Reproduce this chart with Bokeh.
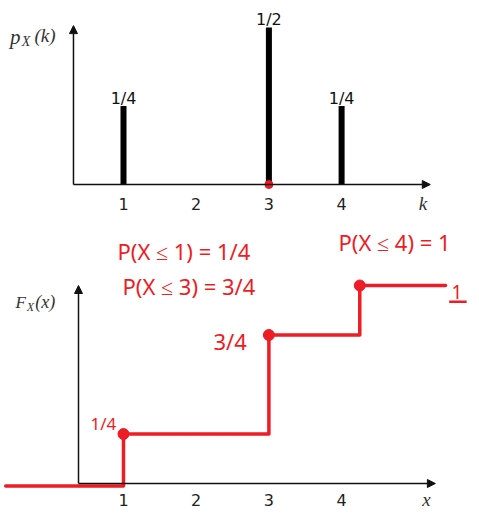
from bokeh.plotting import figure
from bokeh.models import Range1d, LinearAxis, FixedTicker, Arrow, NormalHead
from bokeh.core.properties import value
from bokeh.embed import file_html
from bokeh.resources import INLINE

# ---------------- data ----------------
tick_values = [1, 2, 3, 4]
tick_labels = ["1", "2", "3", "4"]

pmf_k = [1, 3, 4]
pmf_p = [0.25, 0.5, 0.25]
pmf_labels = ["1/4", "1/2", "1/4"]

# hand-drawn CDF (positions)
cdf_jump_x = [1, 3, 4.25]
cdf_levels = [0.25, 0.75, 1.0]
cdf_level_labels = ["1/4", "3/4", "1"]
cdf_zero_level = -0.012
cdf_x_start = -0.62
cdf_x_end = 5.43

notes = ["P(X ≤ 1) = 1/4", "P(X ≤ 3) = 3/4", "P(X ≤ 4) = 1"]

RED = "#ee1c24"
INK = "#111111"
W, H = 477, 512

p = figure(width=W, height=H, output_backend="svg", toolbar_location=None,
           x_axis_location=None, y_axis_location=None,
           x_range=Range1d(-0.6919, 5.8693), y_range=Range1d(-1.04459, 0.5860),
           min_border=0, min_border_left=0, min_border_right=0,
           min_border_top=0, min_border_bottom=0)
p.extra_y_ranges = {"cdf": Range1d(-0.14646, 2.43939)}
p.outline_line_color = None
p.xgrid.visible = False
p.ygrid.visible = False
p.background_fill_color = "white"
p.border_fill_color = "white"


def head():
    return NormalHead(size=8, fill_color=INK, line_color=INK)


# ---------------- top panel: PMF ----------------
p.add_layout(Arrow(x_start=0.312, y_start=0, x_end=5.22, y_end=0, line_width=1.5,
                   line_color=INK, end=head()))
p.add_layout(Arrow(x_start=0.312, y_start=0, x_end=0.312, y_end=0.506, line_width=1.5,
                   line_color=INK, end=head()))

p.segment(x0=pmf_k, y0=[0] * len(pmf_k), x1=pmf_k, y1=pmf_p, line_width=6,
          line_color="black", line_cap="butt")
p.text(x=pmf_k, y=pmf_p, text=pmf_labels, text_align="center",
       text_baseline="alphabetic", y_offset=-8,
       text_font=value("DejaVu Sans"), text_font_size="16px", text_color=INK)
p.scatter(x=[3], y=[0], size=8, color=RED)

ax_top = LinearAxis(fixed_location=0, ticker=FixedTicker(ticks=tick_values),
                    major_label_overrides={v: l for v, l in zip(tick_values, tick_labels)})
ax_top.axis_line_color = None
ax_top.major_tick_line_color = None
ax_top.minor_tick_line_color = None
ax_top.major_label_standoff = 7
ax_top.major_label_text_font = "DejaVu Sans"
ax_top.major_label_text_font_size = "16px"
ax_top.major_label_text_color = "#222222"
p.add_layout(ax_top, "below")

# axis titles (top)
p.text(x=[-0.56], y=[0.471], text=["p"], text_font=value("Liberation Serif"),
       text_font_style="italic", text_font_size="21px", text_color="#333333",
       text_baseline="alphabetic")
p.text(x=[-0.40], y=[0.456], text=["X"], text_font=value("Liberation Serif"),
       text_font_style="italic", text_font_size="14px", text_color="#333333",
       text_baseline="alphabetic")
p.text(x=[-0.225], y=[0.475], text=["(k)"], text_font=value("Liberation Serif"),
       text_font_style="italic", text_font_size="19px", text_color="#333333",
       text_baseline="alphabetic")
p.text(x=[5.06], y=[-0.0605], text=["k"], text_font=value("Liberation Serif"),
       text_font_style="italic", text_font_size="19px", text_color="#333333",
       text_baseline="alphabetic")

# ---------------- bottom panel: CDF ----------------
p.add_layout(Arrow(x_start=0.381, y_start=0, x_end=5.29, y_end=0, line_width=1.5,
                   line_color=INK, y_range_name="cdf", end=head()))
p.add_layout(Arrow(x_start=0.381, y_start=0, x_end=0.381, y_end=1.0, line_width=1.5,
                   line_color=INK, y_range_name="cdf", end=head()))

ax_bot = LinearAxis(fixed_location=0, y_range_name="cdf",
                    ticker=FixedTicker(ticks=tick_values),
                    major_label_overrides={v: l for v, l in zip(tick_values, tick_labels)})
ax_bot.axis_line_color = None
ax_bot.major_tick_line_color = None
ax_bot.minor_tick_line_color = None
ax_bot.major_label_standoff = 4
ax_bot.major_label_text_font = "DejaVu Sans"
ax_bot.major_label_text_font_size = "16px"
ax_bot.major_label_text_color = "#222222"
p.add_layout(ax_bot, "below")

p.text(x=[-0.486], y=[0.914], text=["F"], text_font=value("Liberation Serif"),
       text_font_style="italic", text_font_size="17px", text_color="#333333",
       text_baseline="alphabetic", y_range_name="cdf")
p.text(x=[-0.33], y=[0.889], text=["X"], text_font=value("Liberation Serif"),
       text_font_style="italic", text_font_size="12px", text_color="#333333",
       text_baseline="alphabetic", y_range_name="cdf")
p.text(x=[-0.215], y=[0.918], text=["(x)"], text_font=value("Liberation Serif"),
       text_font_style="italic", text_font_size="18px", text_color="#333333",
       text_baseline="alphabetic", y_range_name="cdf")
p.text(x=[5.11], y=[-0.08], text=["x"], text_font=value("Liberation Serif"),
       text_font_style="italic", text_font_size="19px", text_color="#333333",
       text_baseline="alphabetic", y_range_name="cdf")

# step path
xs = [cdf_x_start, cdf_jump_x[0]]
ys = [cdf_zero_level, cdf_zero_level]
for i, (jx, lv) in enumerate(zip(cdf_jump_x, cdf_levels)):
    xs += [jx, jx]
    ys += [ys[-1], lv]
    nxt = cdf_jump_x[i + 1] if i + 1 < len(cdf_jump_x) else cdf_x_end
    xs.append(nxt)
    ys.append(lv)
p.line(x=xs, y=ys, line_width=3.5, line_color=RED, line_join="round",
       line_cap="round", y_range_name="cdf")
p.scatter(x=cdf_jump_x, y=cdf_levels, size=11, color=RED, y_range_name="cdf")

# red handwritten annotations
p.text(x=[0.917, 0.986, 3.957], y=[1.172, 1.0, 1.222], text=notes,
       text_align="left", text_baseline="middle", text_font=value("Noto Sans"),
       text_font_size="22px", text_color=RED, y_range_name="cdf")
p.text(x=[0.546], y=[0.303], text=[cdf_level_labels[0]], text_align="left",
       text_baseline="middle", text_font=value("Noto Sans"), text_font_size="17px",
       text_color=RED, y_range_name="cdf")
p.text(x=[2.238], y=[0.722], text=[cdf_level_labels[1]], text_align="left",
       text_baseline="middle", text_font=value("Noto Sans"), text_font_size="22px",
       text_color=RED, y_range_name="cdf")
p.text(x=[5.51], y=[0.965], text=[cdf_level_labels[2]], text_align="left",
       text_baseline="middle", text_font=value("Noto Sans"), text_font_size="19px",
       text_color=RED, y_range_name="cdf")
p.segment(x0=[5.48], y0=[0.918], x1=[5.72], y1=[0.918], line_width=2.5,
          line_color=RED, y_range_name="cdf")

open("out.html", "w").write(file_html(p, INLINE))
